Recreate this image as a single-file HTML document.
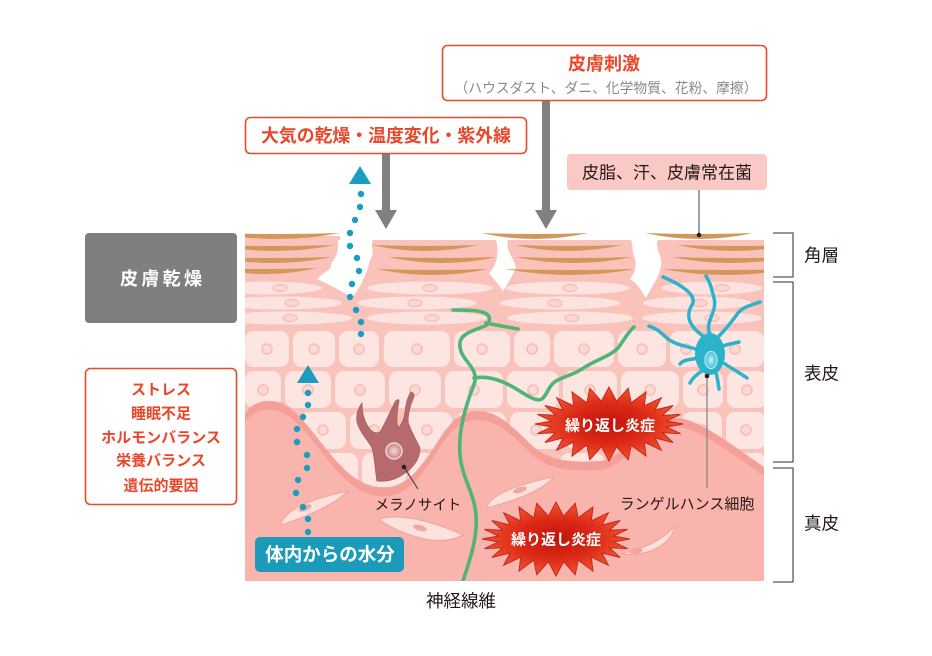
<!DOCTYPE html>
<html><head><meta charset="utf-8"><style>
html,body{margin:0;padding:0;background:#fff;}
svg{display:block;}
text{font-family:"Liberation Sans","Noto Sans CJK JP",sans-serif;}
.b{font-weight:bold;}
.c{fill:#fde5e1;}
.n{fill:#fdd9d4;stroke:#f6bcb5;stroke-width:1.5;}
.g{fill:#fde3df;}
.gn{fill:#fdd6d1;stroke:#f6bcb5;stroke-width:1.2;}
.t{fill:#d3975b;}
.w{fill:#ffffff;}
.f{fill:#fde1dd;stroke:#f2a39b;stroke-width:1;}
.fn{fill:#f4a59d;}
.d{fill:#1a9dc0;}
.br{fill:none;stroke:#595959;stroke-width:1.3;}
.lc{fill:none;stroke:#2bb3cc;stroke-linecap:round;}
</style></head><body>
<svg width="932" height="656" viewBox="0 0 932 656" xmlns="http://www.w3.org/2000/svg">
<defs>
<clipPath id="skin"><rect x="245" y="230" width="519" height="351"/></clipPath>
<radialGradient id="burst" cx="0.5" cy="0.5" r="0.5">
<stop offset="0" stop-color="#c3120a"/><stop offset="0.55" stop-color="#dc2a17"/><stop offset="1" stop-color="#f05634"/>
</radialGradient>
<radialGradient id="mnuc" cx="0.5" cy="0.5" r="0.5">
<stop offset="0" stop-color="#f6dada"/><stop offset="1" stop-color="#c47f82"/>
</radialGradient>
<radialGradient id="lnuc" cx="0.5" cy="0.5" r="0.5">
<stop offset="0" stop-color="#c8f3fa"/><stop offset="1" stop-color="#3cbad2"/>
</radialGradient>
</defs>

<rect x="0" y="0" width="932" height="656" fill="#fff"/>

<!-- ========== SKIN ========== -->
<g clip-path="url(#skin)">
<rect x="245" y="240" width="519" height="341" fill="#f9c2bb"/>
<rect x="245" y="236" width="95" height="10" fill="#f9c2bb"/>

<!-- granular layer -->
<ellipse class="g" cx="265" cy="288" rx="57" ry="6.5"/>
<ellipse class="g" cx="430" cy="288" rx="63" ry="6.5"/>
<ellipse class="g" cx="568" cy="288" rx="62" ry="6.5"/>
<ellipse class="g" cx="712" cy="288" rx="50" ry="6.5"/>
<ellipse class="g" cx="280" cy="303" rx="62" ry="6.5"/>
<ellipse class="g" cx="417" cy="303" rx="60" ry="6.5"/>
<ellipse class="g" cx="560" cy="303" rx="60" ry="6.5"/>
<ellipse class="g" cx="697" cy="303" rx="54" ry="6.5"/>
<ellipse class="g" cx="285" cy="318" rx="67" ry="6.5"/>
<ellipse class="g" cx="427" cy="318" rx="60" ry="6.5"/>
<ellipse class="g" cx="570" cy="318" rx="63" ry="6.5"/>
<ellipse class="g" cx="702" cy="318" rx="60" ry="6.5"/>
<ellipse class="gn" cx="280" cy="288" rx="7" ry="3.5"/>
<ellipse class="gn" cx="430" cy="288" rx="7" ry="3.5"/>
<ellipse class="gn" cx="570" cy="288" rx="7" ry="3.5"/>
<ellipse class="gn" cx="722" cy="288" rx="7" ry="3.5"/>
<ellipse class="gn" cx="292" cy="303" rx="7" ry="3.5"/>
<ellipse class="gn" cx="415" cy="303" rx="7" ry="3.5"/>
<ellipse class="gn" cx="555" cy="303" rx="7" ry="3.5"/>
<ellipse class="gn" cx="700" cy="303" rx="7" ry="3.5"/>
<ellipse class="gn" cx="290" cy="318" rx="7" ry="3.5"/>
<ellipse class="gn" cx="432" cy="318" rx="7" ry="3.5"/>
<ellipse class="gn" cx="572" cy="318" rx="7" ry="3.5"/>
<ellipse class="gn" cx="712" cy="318" rx="7" ry="3.5"/>

<!-- spinous cells row 1 -->
<rect class="c" x="245" y="331" width="44" height="36" rx="9"/>
<rect class="c" x="293" y="331" width="42" height="36" rx="9"/>
<rect class="c" x="339" y="331" width="40" height="36" rx="9"/>
<rect class="c" x="384" y="331" width="66" height="36" rx="9"/>
<rect class="c" x="454" y="331" width="56" height="36" rx="9"/>
<rect class="c" x="514" y="331" width="36" height="36" rx="9"/>
<rect class="c" x="554" y="331" width="60" height="36" rx="9"/>
<rect class="c" x="618" y="331" width="48" height="36" rx="9"/>
<rect class="c" x="670" y="331" width="32" height="36" rx="9"/>
<rect class="c" x="706" y="331" width="58" height="36" rx="9"/>
<!-- row 2 -->
<rect class="c" x="245" y="371" width="36" height="37" rx="9"/>
<rect class="c" x="285" y="371" width="46" height="37" rx="9"/>
<rect class="c" x="335" y="371" width="50" height="37" rx="9"/>
<rect class="c" x="389" y="371" width="52" height="37" rx="9"/>
<rect class="c" x="445" y="371" width="58" height="37" rx="9"/>
<rect class="c" x="507" y="371" width="52" height="37" rx="9"/>
<rect class="c" x="563" y="371" width="54" height="37" rx="9"/>
<rect class="c" x="621" y="371" width="58" height="37" rx="9"/>
<rect class="c" x="683" y="371" width="40" height="37" rx="9"/>
<rect class="c" x="727" y="371" width="40" height="37" rx="9"/>
<!-- row 3 -->
<rect class="c" x="300" y="412" width="46" height="37" rx="9"/>
<rect class="c" x="350" y="412" width="48" height="37" rx="9"/>
<rect class="c" x="402" y="412" width="50" height="37" rx="9"/>
<rect class="c" x="456" y="412" width="50" height="37" rx="9"/>
<rect class="c" x="510" y="412" width="52" height="37" rx="9"/>
<rect class="c" x="566" y="412" width="56" height="37" rx="9"/>
<rect class="c" x="626" y="412" width="52" height="37" rx="9"/>
<rect class="c" x="682" y="412" width="40" height="37" rx="9"/>
<rect class="c" x="726" y="412" width="40" height="37" rx="9"/>
<!-- row 4 -->
<rect class="c" x="318" y="453" width="40" height="34" rx="9"/>
<rect class="c" x="362" y="453" width="44" height="34" rx="9"/>
<rect class="c" x="410" y="453" width="36" height="34" rx="9"/>
<rect class="c" x="560" y="453" width="44" height="34" rx="9"/>
<rect class="c" x="690" y="453" width="36" height="34" rx="9"/>
<rect class="c" x="730" y="453" width="36" height="34" rx="9"/>
<!-- nuclei -->
<circle class="n" cx="267" cy="349" r="5"/><circle class="n" cx="314" cy="349" r="5"/>
<circle class="n" cx="359" cy="349" r="5"/><circle class="n" cx="417" cy="349" r="5"/>
<circle class="n" cx="482" cy="349" r="5"/><circle class="n" cx="532" cy="349" r="5"/>
<circle class="n" cx="584" cy="349" r="5"/><circle class="n" cx="642" cy="349" r="5"/>
<circle class="n" cx="686" cy="349" r="5"/><circle class="n" cx="735" cy="349" r="5"/>
<circle class="n" cx="263" cy="390" r="5"/><circle class="n" cx="308" cy="390" r="5"/>
<circle class="n" cx="360" cy="390" r="5"/><circle class="n" cx="415" cy="390" r="5"/>
<circle class="n" cx="474" cy="390" r="5"/><circle class="n" cx="533" cy="390" r="5"/>
<circle class="n" cx="590" cy="390" r="5"/><circle class="n" cx="650" cy="390" r="5"/>
<circle class="n" cx="703" cy="390" r="5"/><circle class="n" cx="747" cy="390" r="5"/>
<circle class="n" cx="323" cy="430" r="5"/><circle class="n" cx="374" cy="430" r="5"/>
<circle class="n" cx="427" cy="430" r="5"/><circle class="n" cx="481" cy="430" r="5"/>
<circle class="n" cx="536" cy="430" r="5"/><circle class="n" cx="594" cy="430" r="5"/>
<circle class="n" cx="652" cy="430" r="5"/><circle class="n" cx="702" cy="430" r="5"/>
<circle class="n" cx="746" cy="430" r="5"/>
<circle class="n" cx="338" cy="470" r="5"/><circle class="n" cx="384" cy="470" r="5"/>
<circle class="n" cx="428" cy="468" r="5"/><circle class="n" cx="748" cy="466" r="5"/>

<!-- white gaps between corneum columns -->
<path class="w" d="M338,240 L373,240 C370,247 375,252 371,258 C368,266 366,280 352,298 C344,292 330,285 317,279 C322,273 333,270 331,264 C336,258 339,250 338,240Z"/>
<path class="w" d="M496,240 L508,240 C505,250 514,258 516,268 C512,277 508,283 503,291 C499,284 493,279 489,273 C496,266 500,254 496,240Z"/>
<path class="w" d="M631,240 L658,240 C654,248 663,256 661,265 C660,276 652,286 646,298 C641,290 637,283 630,279 C636,272 637,262 634,256 C632,250 633,245 631,240Z"/>

<!-- tan corneum lines -->
<path class="t" d="M215,233 Q277.5,235 340,233 Q277.5,245 215,233Z"/>
<path class="t" d="M215,245 Q275,247 335,245 Q275,257 215,245Z"/>
<path class="t" d="M215,257 Q273.5,259 332,257 Q273.5,269 215,257Z"/>
<path class="t" d="M215,268 Q266,270 317,268 Q266,280 215,268Z"/>
<path class="t" d="M372,245 Q425,247 478,245 Q425,257 372,245Z"/>
<path class="t" d="M388,257 Q442.5,259 497,257 Q442.5,269 388,257Z"/>
<path class="t" d="M377,269 Q432.5,271 488,269 Q432.5,281 377,269Z"/>
<path class="t" d="M481,233 Q534.5,235 588,233 Q534.5,245 481,233Z"/>
<path class="t" d="M515,245 Q568.5,247 622,245 Q568.5,257 515,245Z"/>
<path class="t" d="M515,257 Q573.5,259 632,257 Q573.5,269 515,257Z"/>
<path class="t" d="M505,269 Q570,271 635,269 Q570,281 505,269Z"/>
<path class="t" d="M645,233 Q699,235 753,233 Q699,245 645,233Z"/>
<path class="t" d="M677,245 Q733.5,247 790,245 Q733.5,257 677,245Z"/>
<path class="t" d="M672,257 Q731,259 790,257 Q731,269 672,257Z"/>
<path class="t" d="M663,269 Q726.5,271 790,269 Q726.5,281 663,269Z"/>

<!-- dermis -->
<path fill="#f4a098" d="M245,414 C250,403 268,396 285,405 C305,416 322,448 345,470 C360,484 375,489 390,487 C410,484 425,462 440,438 C452,420 462,411 478,411 C500,411 515,430 535,448 C550,460 570,463 600,461 C625,458 645,420 672,418 C695,416 725,440 764,467 L764,590 L245,590 Z"/>
<path fill="#f9b5ad" transform="translate(0,9)" d="M245,414 C250,403 268,396 285,405 C305,416 322,448 345,470 C360,484 375,489 390,487 C410,484 425,462 440,438 C452,420 462,411 478,411 C500,411 515,430 535,448 C550,460 570,463 600,461 C625,458 645,420 672,418 C695,416 725,440 764,467 L764,590 L245,590 Z"/>

<!-- fibroblasts -->
<path class="f" d="M281,525 C284,510 310,499 348,491 C336,503 314,514 281,525Z"/>
<ellipse class="fn" cx="305" cy="508" rx="7" ry="2.8" transform="rotate(-22 305 508)"/>
<path class="f" d="M379,519 C400,513 432,521 463,535 C446,544 425,541 405,533 C394,529 385,524 379,519Z"/>
<ellipse class="fn" cx="420" cy="528" rx="7" ry="2.8" transform="rotate(15 420 528)"/>
<path class="f" d="M486,508 C491,494 520,484 554,477 C541,491 515,501 486,508Z"/>
<ellipse class="fn" cx="520" cy="490" rx="7" ry="2.8" transform="rotate(-18 520 490)"/>
<path class="f" d="M621,554 C640,549 660,543 675,526 C671,544 650,557 621,554Z"/>
<ellipse class="fn" cx="636" cy="551" rx="7" ry="2.8" transform="rotate(-10 636 551)"/>

<!-- nerve fiber -->
<g fill="none" stroke="#4fb478" stroke-width="3.6" stroke-linecap="round" stroke-linejoin="round">
<path d="M462,584 C468,565 478,540 476,515 C474,492 462,478 460,455 C458,432 465,410 470,395 C474,384 477,380 474,372 C470,362 458,355 460,342 C462,333 475,330 485,326 C491,323 491,316 485,313 C478,310 465,310 453,310"/>
<path d="M486,323 C496,325 507,327 518,329"/>
<path d="M474,378 C490,375 505,382 518,390 C528,396 536,402 542,399 C548,394 548,386 556,381 C565,376 576,374 585,367 C596,360 610,356 618,348 C624,340 628,332 634,327"/>
</g>

<!-- melanocyte -->
<path fill="#b66a6d" stroke="#a65d61" stroke-width="0.8" d="M377,481 C375,470 375,458 372,448 C368,440 360,433 357,422 C356,414 358,408 362,403 C362,412 364,421 369,428 C372,432 376,434 380,432 C385,424 390,412 395,402 C397,399 399,399 399,401 C397,411 396,420 398,428 C402,424 404,419 405,412 C406,403 408,396 411,392 C414,393 415,396 413,399 C410,406 408,414 408,422 C411,431 416,440 420,448 C420,458 414,467 405,473 C397,479 387,482 377,481 Z"/>
<circle cx="394" cy="451" r="8" fill="url(#mnuc)" stroke="#f3d6d6" stroke-width="1.5"/>

<!-- langerhans cell -->
<g class="lc">
<path stroke-width="3.5" d="M703,336 C692,328 684,318 692,305 C698,295 680,284 663,277"/>
<path stroke-width="3.5" d="M710,334 C704,322 718,312 714,298 C712,289 710,282 706,276"/>
<path stroke-width="3.5" d="M719,336 C727,328 733,320 738,313 C744,306 752,305 760,302"/>
<path stroke-width="3.5" d="M696,349 C686,346 676,345 668,339 C660,332 656,328 649,326"/>
<path stroke-width="3.5" d="M698,358 C690,360 684,359 680,364"/>
<path stroke-width="3.5" d="M703,370 C698,374 693,377 690,383"/>
<path stroke-width="3.5" d="M723,346 C729,344 734,343 739,342"/>
<path stroke-width="3.5" d="M722,362 C729,367 737,371 747,378"/>
<path stroke-width="3.5" d="M716,373 C718,379 718,384 719,389"/>
</g>
<ellipse cx="710" cy="354" rx="15" ry="21" fill="#2bb3cc"/>
<ellipse cx="711" cy="360" rx="6" ry="8.5" fill="url(#lnuc)" stroke="#b8eef6" stroke-width="1.2"/>
</g>

<!-- starbursts -->
<g>
<polygon fill="url(#burst)" stroke="#c9261a" stroke-width="1" points="683,424 666.5,427 680.5,433.6 662.6,432.8 673.1,442.5 655,438 661.3,450.2 644.3,442.2 646,456 631.2,445.2 628.2,459.7 616.6,446.8 609,461 601.4,446.8 589.8,459.7 586.8,445.2 572,456 573.7,442.2 556.7,450.2 563,438 544.9,442.5 555.4,432.8 537.5,433.6 551.5,427 535,424 551.5,421 537.5,414.4 555.4,415.2 544.9,405.5 563,410 556.7,397.8 573.7,405.8 572,392 586.8,402.8 589.8,388.3 601.4,401.2 609,387 616.6,401.2 628.2,388.3 631.2,402.8 646,392 644.3,405.8 661.3,397.8 655,410 673.1,405.5 662.6,415.2 680.5,414.4 666.5,421"/>
<text x="610" y="430.5" font-size="15" class="b" fill="#fff" text-anchor="middle">繰り返し炎症</text>
</g>
<g transform="translate(-53,115)">
<polygon fill="url(#burst)" stroke="#c9261a" stroke-width="1" points="683,424 666.5,427 680.5,433.6 662.6,432.8 673.1,442.5 655,438 661.3,450.2 644.3,442.2 646,456 631.2,445.2 628.2,459.7 616.6,446.8 609,461 601.4,446.8 589.8,459.7 586.8,445.2 572,456 573.7,442.2 556.7,450.2 563,438 544.9,442.5 555.4,432.8 537.5,433.6 551.5,427 535,424 551.5,421 537.5,414.4 555.4,415.2 544.9,405.5 563,410 556.7,397.8 573.7,405.8 572,392 586.8,402.8 589.8,388.3 601.4,401.2 609,387 616.6,401.2 628.2,388.3 631.2,402.8 646,392 644.3,405.8 661.3,397.8 655,410 673.1,405.5 662.6,415.2 680.5,414.4 666.5,421"/>
<text x="609" y="429.5" font-size="15" class="b" fill="#fff" text-anchor="middle">繰り返し炎症</text>
</g>

<!-- pointer lines -->
<line x1="404" y1="467" x2="418" y2="489" stroke="#333" stroke-width="1"/>
<circle cx="404" cy="467" r="2.3" fill="#222"/>
<line x1="707" y1="376" x2="707" y2="488" stroke="#888" stroke-width="1.3"/>
<circle cx="707" cy="376" r="2.3" fill="#222"/>
<line x1="699" y1="190" x2="699" y2="235" stroke="#555" stroke-width="1.1"/>
<circle cx="699" cy="235" r="2.3" fill="#222"/>

<!-- gray arrows -->
<rect x="382" y="154" width="8" height="58" fill="#808080"/>
<polygon points="375,210 397,210 386,229" fill="#808080"/>
<rect x="542" y="101" width="8" height="111" fill="#808080"/>
<polygon points="535,210 557,210 546,229" fill="#808080"/>

<!-- teal dotted arrows -->
<polygon points="360,166 371,184 349,184" fill="#1a9dc0"/>
<circle class="d" cx="361" cy="194" r="3.2"/><circle class="d" cx="360" cy="207" r="3.2"/>
<circle class="d" cx="355" cy="220" r="3.2"/><circle class="d" cx="350" cy="233" r="3.2"/>
<circle class="d" cx="350" cy="246" r="3.2"/><circle class="d" cx="357" cy="258" r="3.2"/>
<circle class="d" cx="359" cy="271" r="3.2"/><circle class="d" cx="352" cy="284" r="3.2"/>
<circle class="d" cx="350" cy="297" r="3.2"/><circle class="d" cx="356" cy="310" r="3.2"/>
<circle class="d" cx="361" cy="322" r="3.2"/><circle class="d" cx="361" cy="334" r="3.2"/>
<polygon points="308,365 319,383 297,383" fill="#1a9dc0"/>
<circle class="d" cx="308" cy="393" r="3.2"/><circle class="d" cx="308" cy="405" r="3.2"/>
<circle class="d" cx="303" cy="417" r="3.2"/><circle class="d" cx="297" cy="429" r="3.2"/>
<circle class="d" cx="297" cy="442" r="3.2"/><circle class="d" cx="307" cy="455" r="3.2"/>
<circle class="d" cx="307" cy="468" r="3.2"/><circle class="d" cx="298" cy="480" r="3.2"/>
<circle class="d" cx="296" cy="493" r="3.2"/><circle class="d" cx="303" cy="507" r="3.2"/>
<circle class="d" cx="308" cy="519" r="3.2"/><circle class="d" cx="308" cy="532" r="3.2"/>

<!-- boxes -->
<rect x="442.5" y="45.5" width="324" height="55" rx="5" fill="#fff" stroke="#e9492c" stroke-width="1.6"/>
<text x="604" y="70" font-size="18" class="b" fill="#e9462a" text-anchor="middle">皮膚刺激</text>
<text x="606" y="93" font-size="14" fill="#8a8a8a" text-anchor="middle" textLength="303" lengthAdjust="spacingAndGlyphs">（ハウスダスト、ダニ、化学物質、花粉、摩擦）</text>

<rect x="245.5" y="117.5" width="281" height="36" rx="5" fill="#fff" stroke="#e9492c" stroke-width="1.6"/>
<text x="386" y="142" font-size="18" class="b" fill="#e9462a" text-anchor="middle" textLength="250" lengthAdjust="spacingAndGlyphs">大気の乾燥・温度変化・紫外線</text>

<rect x="567" y="154" width="200" height="36" rx="4" fill="#fbc9c5"/>
<text x="667" y="178.5" font-size="17" fill="#231815" text-anchor="middle" textLength="170" lengthAdjust="spacingAndGlyphs">皮脂、汗、皮膚常在菌</text>

<rect x="85" y="233" width="152" height="90" rx="4" fill="#7f7f7f"/>
<text x="120" y="285" font-size="18" class="b" fill="#fff" textLength="82" lengthAdjust="spacing">皮膚乾燥</text>

<rect x="85.5" y="368.5" width="151" height="136" rx="5" fill="#fff" stroke="#e9492c" stroke-width="1.6"/>
<g font-size="15" class="b" fill="#e9462a" text-anchor="middle">
<text x="161" y="394.5">ストレス</text>
<text x="161" y="418.5">睡眠不足</text>
<text x="161" y="442.5">ホルモンバランス</text>
<text x="161" y="465.5">栄養バランス</text>
<text x="161" y="490.5">遺伝的要因</text>
</g>

<rect x="255" y="537" width="149" height="35" rx="5" fill="#1b9bb9"/>
<text x="330" y="561" font-size="18.5" class="b" fill="#fff" text-anchor="middle">体内からの水分</text>

<!-- labels -->
<text x="418" y="510" font-size="14.5" fill="#231815" text-anchor="middle">メラノサイト</text>
<text x="687" y="509" font-size="15" fill="#231815" text-anchor="middle">ランゲルハンス細胞</text>
<text x="461" y="607" font-size="17.5" fill="#231815" text-anchor="middle">神経線維</text>

<!-- brackets -->
<path class="br" d="M773,233 H793 V277 H773"/>
<path class="br" d="M773,282 H793 V462 H773"/>
<path class="br" d="M773,468 H793 V582 H773"/>
<text x="804" y="261.5" font-size="17.5" fill="#231815">角層</text>
<text x="804" y="379.5" font-size="17.5" fill="#231815">表皮</text>
<text x="804" y="529.5" font-size="17.5" fill="#231815">真皮</text>
</svg>
</body></html>
